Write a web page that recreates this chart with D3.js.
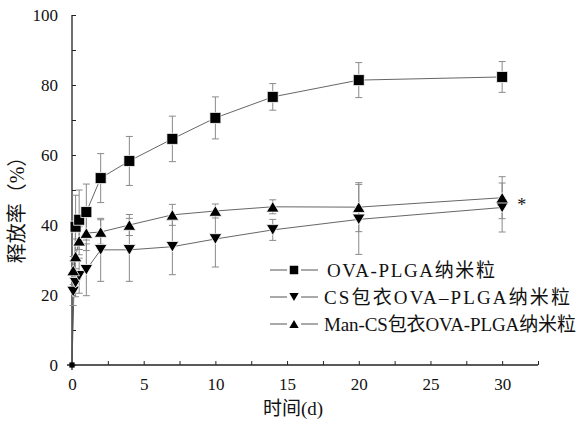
<!DOCTYPE html>
<html>
<head>
<meta charset="utf-8">
<script src="https://cdn.jsdelivr.net/npm/d3@7"></script>
<style>
  body { margin: 0; background: #fff; }
  svg text { font-family: "Liberation Serif", "Times New Roman", "Noto Sans CJK SC", serif !important; fill: #111; }
</style>
</head>
<body>
<svg id="chart"></svg>
<script>
const width = 580;
const height = 422;

// release data (days, % released, error)
const seriesNames = ['OVA-PLGA纳米粒', 'CS包衣OVA–PLGA纳米粒', 'Man-CS包衣OVA-PLGA纳米粒'];
const seriesShapes = ['square', 'down', 'up'];

const plgaDays = [0, 0.25, 0.5, 1, 2, 4, 7, 10, 14, 20, 30];
const plgaRelease = [0, 39.5, 41.5, 43.7, 53.4, 58.3, 64.6, 70.6, 76.6, 81.4, 82.3];
const plgaError = [0, 9, 8.5, 8, 7, 7, 6.5, 6, 3.8, 5, 4.4];

const csDays = [0, 0.083, 0.25, 0.5, 1, 2, 4, 7, 10, 14, 20, 30];
const csRelease = [0, 21, 23.5, 25.5, 27.2, 32.9, 32.9, 33.8, 36, 38.6, 41.6, 45];
const csError = [0, 4, 4, 5, 7.4, 9, 9, 8, 8, 3, 10, 7];

const manDays = [0, 0.083, 0.25, 0.5, 1, 2, 4, 7, 10, 14, 20, 30];
const manRelease = [0, 27, 31, 35.5, 37.7, 38, 40, 42.9, 44, 45.2, 45.1, 47.8];
const manError = [0, 4, 5, 4, 5, 3.5, 3, 3, 2, 2, 7, 6];

const xTicks = d3.range(0, 32.6, 2.5);
const yTicks = d3.range(0, 101, 10);

const margin = { top: 15, right: 42, bottom: 57, left: 72 };
const serif = '"Liberation Serif", "Times New Roman", "Noto Sans CJK SC", serif';
const legendWidths = [168, 246, 252];

const svg = d3.select('#chart')
              .attr('width', width)
              .attr('height', height);

const x = d3.scaleLinear()
            .domain([0, 32.5])
            .range([margin.left, width - margin.right]);

const y = d3.scaleLinear()
            .domain([0, 100])
            .range([height - margin.bottom, margin.top]);

const series = [
  { name: seriesNames[0], shape: seriesShapes[0], pts: plgaDays.map((d, i) => ({ t: d, v: plgaRelease[i], e: plgaError[i] })) },
  { name: seriesNames[1], shape: seriesShapes[1], pts: csDays.map((d, i) => ({ t: d, v: csRelease[i], e: csError[i] })) },
  { name: seriesNames[2], shape: seriesShapes[2], pts: manDays.map((d, i) => ({ t: d, v: manRelease[i], e: manError[i] })) }
];

function markerPath(shape, s) {
  const h = s / 2;
  if (shape === 'square') return `M${-h},${-h}H${h}V${h}H${-h}Z`;
  if (shape === 'up') return `M0,${-h * 0.92}L${h * 1.1},${h * 0.92}L${-h * 1.1},${h * 0.92}Z`;
  return `M0,${h * 0.92}L${h * 1.1},${-h * 0.92}L${-h * 1.1},${-h * 0.92}Z`;
}

// axes
const xAxis = d3.axisBottom(x)
                .tickValues(xTicks)
                .tickSize(-4)
                .tickSizeOuter(0)
                .tickPadding(13)
                .tickFormat(d => d % 5 === 0 ? d : '');

const yAxis = d3.axisLeft(y)
                .tickValues(yTicks)
                .tickSize(-4)
                .tickSizeOuter(0)
                .tickPadding(14)
                .tickFormat(d => d % 20 === 0 ? d : '');

const gx = svg.append('g')
   .attr('transform', `translate(0, ${y(0)})`)
   .call(xAxis);

const gy = svg.append('g')
   .attr('transform', `translate(${x(0)}, 0)`)
   .call(yAxis);

[gx, gy].forEach(g => {
  g.attr('font-family', serif);
  g.select('.domain').remove();
  g.selectAll('.tick line').attr('stroke', '#222');
  g.selectAll('text').style('font-size', '17px').style('font-family', serif).attr('fill', '#111');
});

// axis lines, slightly crossing at the origin
svg.append('line')
   .attr('x1', x(0) - 5).attr('x2', x.range()[1])
   .attr('y1', y(0)).attr('y2', y(0))
   .attr('stroke', '#222').attr('stroke-width', 1.3);
svg.append('line')
   .attr('x1', x(0)).attr('x2', x(0))
   .attr('y1', y(0) + 5).attr('y2', y(100))
   .attr('stroke', '#222').attr('stroke-width', 1.3);

// axis titles
svg.append('text')
   .attr('x', (x.range()[0] + x.range()[1]) / 2 - 12)
   .attr('y', height - 7)
   .attr('text-anchor', 'middle')
   .style('font-family', serif)
   .style('font-size', '19px')
   .text('时间(d)');

svg.append('text')
   .attr('transform', `translate(24, ${(y(0) + y(100)) / 2 + 15}) rotate(-90)`)
   .attr('text-anchor', 'middle')
   .style('font-family', serif)
   .style('font-size', '20px')
   .text('释放率（%）');

// connecting lines
const line = d3.line().x(d => x(d.t)).y(d => y(d.v));

svg.selectAll('.series-line')
   .data(series)
   .enter()
   .append('path')
   .attr('class', 'series-line')
   .attr('d', d => line(d.pts))
   .attr('fill', 'none')
   .attr('stroke', '#555')
   .attr('stroke-width', 0.9);

// error bars
const errs = series.flatMap(s => s.pts.filter(p => p.e > 0));
const eb = svg.selectAll('.err')
   .data(errs)
   .enter()
   .append('g')
   .attr('class', 'err')
   .attr('stroke', '#8a8a8a')
   .attr('stroke-width', 1);
eb.append('line')
  .attr('x1', d => x(d.t)).attr('x2', d => x(d.t))
  .attr('y1', d => y(d.v + d.e)).attr('y2', d => y(d.v - d.e));
eb.append('line')
  .attr('x1', d => x(d.t) - 3.5).attr('x2', d => x(d.t) + 3.5)
  .attr('y1', d => y(d.v + d.e)).attr('y2', d => y(d.v + d.e));
eb.append('line')
  .attr('x1', d => x(d.t) - 3.5).attr('x2', d => x(d.t) + 3.5)
  .attr('y1', d => y(d.v - d.e)).attr('y2', d => y(d.v - d.e));

// markers (the day-0 points are drawn tiny, as in the figure)
series.forEach(s => {
  svg.selectAll(null)
     .data(s.pts)
     .enter()
     .append('path')
     .attr('transform', d => `translate(${x(d.t)}, ${y(d.v)})`)
     .attr('d', d => markerPath(s.shape, d.t === 0 ? 5 : (s.shape === 'square' ? 11 : 11.5)))
     .attr('fill', '#000')
     .attr('stroke', '#fff')
     .attr('stroke-width', d => d.t === 0 ? 0 : 0.8);
});

// significance mark
svg.append('text')
   .attr('x', x(30) + 15)
   .attr('y', y(manRelease[manRelease.length - 1]) + 13)
   .style('font-family', serif)
   .style('font-size', '18px')
   .text('*');

// legend
const legend = svg.append('g')
                  .attr('transform', 'translate(270, 270)');

const rows = legend.selectAll('.legend-row')
                   .data(series)
                   .enter()
                   .append('g')
                   .attr('class', 'legend-row')
                   .attr('transform', (d, i) => `translate(0, ${i * 27})`);

rows.append('line')
    .attr('x1', 0).attr('x2', 17)
    .attr('stroke', '#555').attr('stroke-width', 1);
rows.append('line')
    .attr('x1', 31).attr('x2', 48)
    .attr('stroke', '#555').attr('stroke-width', 1);
rows.append('path')
    .attr('transform', 'translate(24, 0)')
    .attr('d', d => markerPath(d.shape, 8.5))
    .attr('fill', '#000');
rows.append('text')
    .attr('x', (d, i) => i === 0 ? 57 : 54)
    .attr('y', 7)
    .attr('textLength', (d, i) => legendWidths[i])
    .attr('lengthAdjust', 'spacing')
    .style('font-family', serif)
    .style('font-size', '19px')
    .text(d => d.name);
</script>
</body>
</html>
